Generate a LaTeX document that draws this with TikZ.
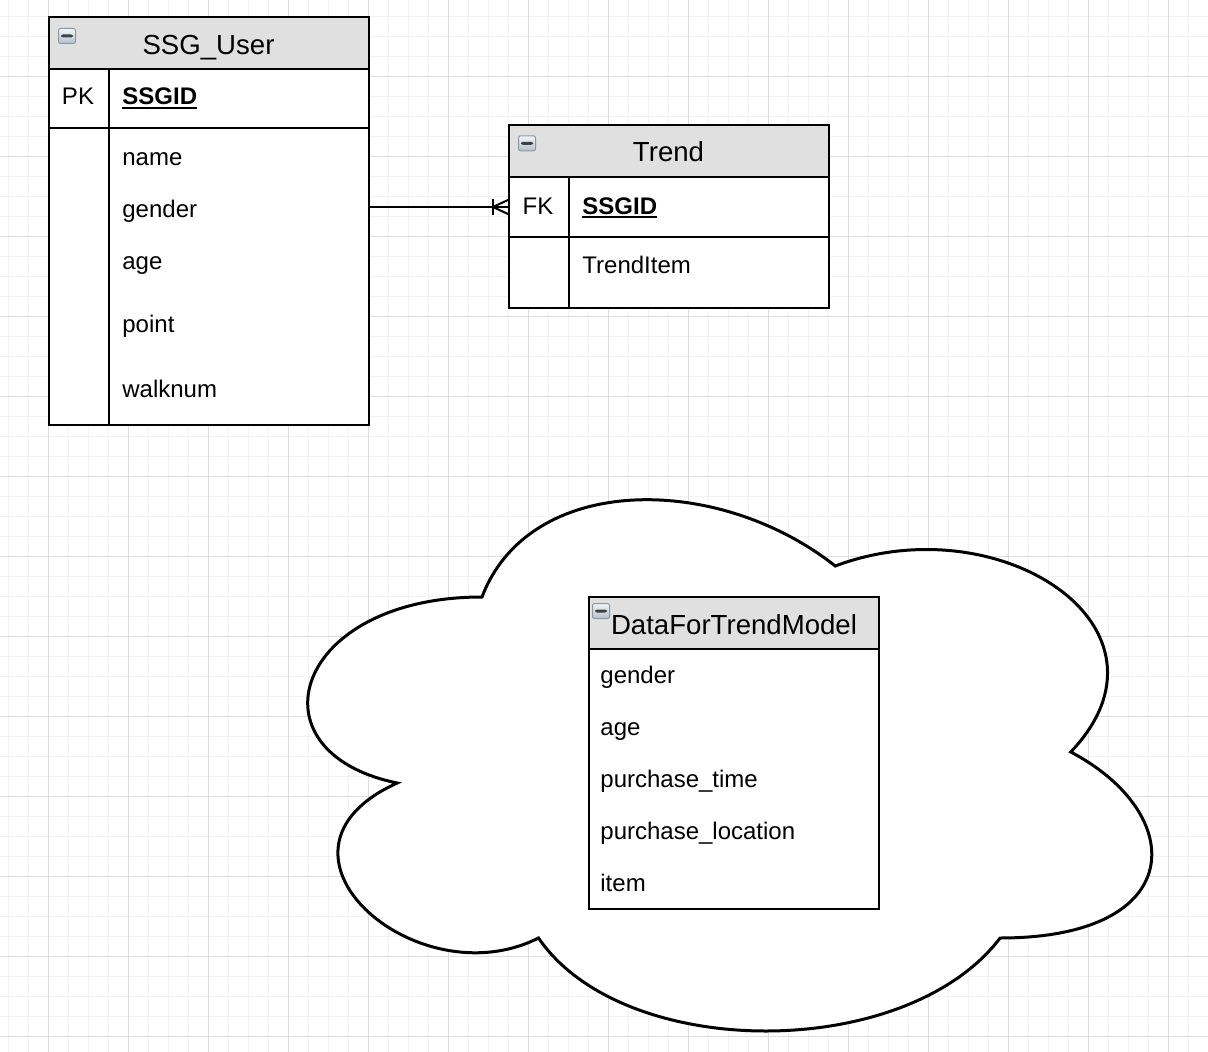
\documentclass[tikz,border=0pt]{standalone}
\usepackage{fontspec}
\setmainfont{Liberation Sans}
\definecolor{headgray}{HTML}{E0E0E0}
\definecolor{gridmajor}{HTML}{DDDDDD}
\definecolor{gridminor}{HTML}{F3F3F3}
\definecolor{iconedge}{HTML}{8A98A6}
\definecolor{icontop}{HTML}{F2F5F8}
\definecolor{iconbottom}{HTML}{B4C0CC}

\tikzset{
  minorgrid/.style={draw=gridminor, line width=0.5pt},
  majorgrid/.style={draw=gridmajor, line width=0.5pt},
  entity/.style={draw=black, line width=1pt, fill=white, rectangle, inner sep=0pt, outer sep=0pt, anchor=north west},
  header/.style={fill=headgray, draw=black, line width=1pt},
  rowrule/.style={line width=1pt},
  keyline/.style={line width=1pt},
  relation/.style={line width=1pt},
  cloudline/.style={draw=black, line width=1.5pt, fill=white},
  tabletitle/.style={font=\fontsize{13.8}{16}\selectfont, inner sep=0pt, anchor=base},
  attr/.style={font=\fontsize{12}{14}\selectfont, inner sep=0pt, anchor=base west},
  keyattr/.style={font=\fontsize{12}{14}\selectfont\bfseries, inner sep=0pt, anchor=base west},
  keytag/.style={font=\fontsize{12}{14}\selectfont, inner sep=0pt, anchor=base},
  collapse/.style={rectangle, rounded corners=1pt, draw=iconedge, line width=0.5pt,
    top color=icontop, bottom color=iconbottom, minimum width=8.5pt, minimum height=7.5pt, inner sep=0pt,
    path picture={\fill[black!75] ([xshift=-3pt,yshift=-0.75pt]path picture bounding box.center)
      rectangle ([xshift=3pt,yshift=0.75pt]path picture bounding box.center);}},
}

\begin{document}
\begin{tikzpicture}[x=0.5pt,y=-0.5pt]
  \useasboundingbox (0,0) rectangle (1208,1052);
  % background grid
  \foreach \gx in {8,28,...,1200} \draw[minorgrid] (\gx,0) -- (\gx,1052);
  \foreach \gy in {16.7,36.7,...,1050} \draw[minorgrid] (0,\gy) -- (1208,\gy);
  \foreach \gx in {48,128,...,1200} \draw[majorgrid] (\gx,0) -- (\gx,1052);
  \foreach \gy in {76.7,156.7,...,1050} \draw[majorgrid] (0,\gy) -- (1208,\gy);

  % cloud
  \draw[cloudline] (482,597) .. controls (293.6,597) and (246.5,752) .. (397.2,783)
    .. controls (246.5,851.2) and (416.1,1000) .. (538.5,938)
    .. controls (623.3,1062) and (905.9,1062) .. (1000.1,938)
    .. controls (1188.5,938) and (1188.5,814) .. (1070.75,752)
    .. controls (1188.5,628) and (1000.1,504) .. (835.25,566)
    .. controls (717.5,473) and (529.1,473) .. (482,597) -- cycle;

  % SSG_User
  \node[entity, minimum width=160pt, minimum height=204pt] (user) at (49,17) {};
  \draw[header] (user.north west) rectangle ([yshift=-26pt]user.north east);
  \draw[rowrule] ([yshift=-55.5pt]user.north west) -- ([yshift=-55.5pt]user.north east);
  \draw[rowrule] ([xshift=30pt,yshift=-26pt]user.north west) -- ([xshift=30pt]user.south west);
  \node[collapse] (userIcon) at (67,36) {};
  \node[tabletitle] (userTitle) at (208.5,54.5) {SSG\_User};
  \node[keytag] (userPK) at (78,105) {PK};
  \node[keyattr] (userKey) at (122,105) {SSGID};
  \draw[keyline] ([yshift=-1.5pt]userKey.base west) -- ([yshift=-1.5pt]userKey.base east);
  \node[attr] (userName) at (122,165.7) {name};
  \node[attr] (userGender) at (122,218) {gender};
  \node[attr] (userAge) at (122,270) {age};
  \node[attr] (userPoint) at (122,333) {point};
  \node[attr] (userWalk) at (122,397.7) {walknum};

  % Trend
  \node[entity, minimum width=160pt, minimum height=91.5pt] (trend) at (509,125) {};
  \draw[header] (trend.north west) rectangle ([yshift=-26pt]trend.north east);
  \draw[rowrule] ([yshift=-56pt]trend.north west) -- ([yshift=-56pt]trend.north east);
  \draw[rowrule] ([xshift=30pt,yshift=-26pt]trend.north west) -- ([xshift=30pt]trend.south west);
  \node[collapse] (trendIcon) at (527,143.3) {};
  \node[tabletitle] (trendTitle) at (668.5,161.7) {Trend};
  \node[keytag] (trendFK) at (538,214.3) {FK};
  \node[keyattr] (trendKey) at (582,214.3) {SSGID};
  \draw[keyline] ([yshift=-1.5pt]trendKey.base west) -- ([yshift=-1.5pt]trendKey.base east);
  \node[attr] (trendItem) at (582,274) {TrendItem};

  % relation SSG_User -> Trend (one or many)
  \coordinate (trendLink) at ([yshift=-41pt]trend.north west);
  \draw[relation] (trendLink -| user.east) -- (trendLink);
  \draw[relation] ([xshift=-8pt,yshift=4pt]trendLink) -- ([xshift=-8pt,yshift=-4pt]trendLink);
  \draw[relation] ([yshift=3.75pt]trendLink) -- ([xshift=-8pt]trendLink) -- ([yshift=-3.75pt]trendLink);

  % DataForTrendModel
  \node[entity, minimum width=145pt, minimum height=156pt] (model) at (589,597) {};
  \draw[header] (model.north west) rectangle ([yshift=-26pt]model.north east);
  \node[collapse] (modelIcon) at (601,611) {};
  \node[tabletitle] (modelTitle) at (734,634.3) {DataForTrendModel};
  \node[attr] (modelGender) at (600,683.3) {gender};
  \node[attr] (modelAge) at (600,735.3) {age};
  \node[attr] (modelTime) at (600,787.3) {purchase\_time};
  \node[attr] (modelPlace) at (600,839.3) {purchase\_location};
  \node[attr] (modelItem) at (600,891.3) {item};
\end{tikzpicture}
\end{document}
